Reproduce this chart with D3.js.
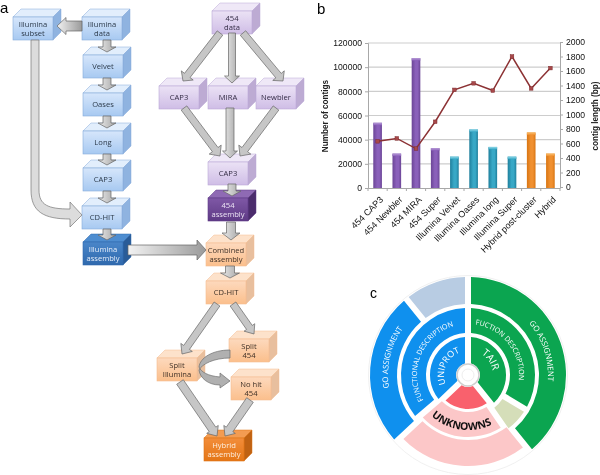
<!DOCTYPE html>
<html>
<head>
<meta charset="utf-8">
<script src="https://cdn.jsdelivr.net/npm/d3@7"></script>
<style>
  body { margin: 0; background: #fff; }
  svg { filter: blur(0.3px); }
  text { font-family: "Liberation Sans", Arial, sans-serif; }
  .boxtext { font-family: "Open Sans", sans-serif; font-size: 7.6px; text-anchor: middle; }
  .ringtext { font-family: "Open Sans", sans-serif; fill: #fff; text-anchor: middle; }
</style>
</head>
<body>
<div id="plot"></div>
<script>
// panel b values
const categories = ["454 CAP3", "454 Newbler", "454 MIRA", "454 Super", "Illumina Velvet", "Illumina Oases",
  "Illumina long", "Illumina Super", "Hybrid post-cluster", "Hybrid"];
const contigCounts = [54000, 28500, 107500, 33000, 26000, 48500, 34000, 26000, 46000, 28500];
const contigLengths = [630, 670, 530, 900, 1340, 1430, 1330, 1800, 1360, 1640];
const barGroups = ["p", "p", "p", "p", "t", "t", "t", "t", "o", "o"];
const countTicks = [0, 20000, 40000, 60000, 80000, 100000, 120000];
const lengthTicks = [0, 200, 400, 600, 800, 1000, 1200, 1400, 1600, 1800, 2000];

// panel c slices, in degrees clockwise from the top
const outerRing = [143, 86, 94, 37];
const middleRing = [122, 22, 84, 132];
const innerRing = [142, 84, 134];

// panel a boxes: label lines, colour family, front face x/y
const boxes = [
  [["Illumina", "subset"], "blue", 13, 17],
  [["Illumina", "data"], "blue", 82, 17],
  [["Velvet"], "blue", 83, 55],
  [["Oases"], "blue", 83, 93],
  [["Long"], "blue", 83, 131],
  [["CAP3"], "blue", 83, 168],
  [["CD-HIT"], "blue", 82, 206],
  [["Illumina", "assembly"], "dblue", 83, 242],
  [["454", "data"], "purple", 212, 11],
  [["CAP3"], "purple", 159, 86],
  [["MIRA"], "purple", 208, 86],
  [["Newbler"], "purple", 256, 86],
  [["CAP3"], "purple", 208, 162],
  [["454", "assembly"], "dpurple", 208, 198],
  [["Combined", "assembly"], "peach", 206, 243],
  [["CD-HIT"], "peach", 206, 281],
  [["Split", "454"], "peach", 229, 339],
  [["No hit", "454"], "peach", 231, 377],
  [["Split", "Illumina"], "peach", 157, 358],
  [["Hybrid", "assembly"], "orange", 204, 438]
];

// straight block arrows: from x/y, to x/y, shaft width, head width, head length
const arrows = [
  [82, 26, 57, 26, 10, 17, 9],
  [107, 40, 107, 52, 8, 18, 5],
  [107, 78, 107, 90, 8, 18, 5],
  [107, 116, 107, 128, 8, 18, 5],
  [107, 154, 107, 165, 8, 18, 5],
  [107, 191, 107, 203, 8, 18, 5],
  [107, 229, 107, 240, 8, 18, 5],
  [220, 33, 183, 81, 7, 15, 7],
  [232, 33, 232, 83, 7, 15, 7],
  [243, 33, 283, 81, 7, 15, 7],
  [184, 108, 220, 156, 7, 15, 8],
  [230, 108, 230, 158, 8, 15, 7],
  [276, 108, 240, 156, 7, 15, 8],
  [232, 184, 232, 196, 8, 18, 5],
  [231, 222, 231, 240, 9, 18, 7],
  [230, 266, 230, 278, 9, 19, 5],
  [128, 250, 206, 250, 10, 20, 9],
  [217, 304, 182, 354, 7, 14, 8],
  [233, 304, 254, 334, 7, 13, 8],
  [180, 382, 217, 436, 8, 14, 8],
  [250, 400, 225, 436, 8, 14, 8]
];

const boxW = 40, boxH = 23, depth = 8;

const palette = {
  blue:    { top: "#e2eefc", a: "#d6e6fb", b: "#a7c9f1", side: "#8fb3e0", line: "#86abdb", text: "#2c3a4a" },
  dblue:   { top: "#4e8dd0", a: "#4a86c9", b: "#2f69ad", side: "#2a5c98", line: "#2f69ad", text: "#e6eefa" },
  purple:  { top: "#efe8f7", a: "#ebe2f5", b: "#cfbde6", side: "#bdabd3", line: "#bba8d6", text: "#332c44" },
  dpurple: { top: "#8f6ab4", a: "#7f58a6", b: "#5e3a85", side: "#4b2c6c", line: "#5e3a85", text: "#ece4f4" },
  peach:   { top: "#fde2cb", a: "#fdd9bd", b: "#fbbf8c", side: "#e8bf9e", line: "#f5bd90", text: "#3e3026" },
  orange:  { top: "#f39c52", a: "#f28d3a", b: "#e47616", side: "#bf6213", line: "#dd7414", text: "#fdeede" }
};

const svg = d3.select("#plot").append("svg").attr("width", 600).attr("height", 475);
const defs = svg.append("defs");

function addGradient(id, stops, x2, y2) {
  let g = defs.append("linearGradient").attr("id", id)
    .attr("x1", 0).attr("y1", 0).attr("x2", x2).attr("y2", y2);
  stops.forEach(s => g.append("stop").attr("offset", s[0]).attr("stop-color", s[1]));
}

// panel letters
svg.append("text").attr("x", 0).attr("y", 13).attr("font-size", 15).text("a");
svg.append("text").attr("x", 317).attr("y", 14).attr("font-size", 15).text("b");
svg.append("text").attr("x", 370).attr("y", 298).attr("font-size", 14).text("c");

// ---------- panel a ----------
const flow = svg.append("g");
Object.keys(palette).forEach(k => addGradient("face-" + k, [[0, palette[k].a], [1, palette[k].b]], 0, 1));
addGradient("arrow-v", [[0, "#ececec"], [1, "#a5a5a5"]], 1, 0);
addGradient("arrow-h", [[0, "#f2f2f2"], [1, "#9a9a9a"]], 1, 0);

const poly = d3.line();

boxes.forEach(function (b) {
  let c = palette[b[1]], x0 = b[2], y0 = b[3];
  let g = flow.append("g");
  g.append("path").attr("fill", c.top).attr("stroke", c.line).attr("stroke-width", 0.5)
    .attr("d", poly([[x0, y0], [x0 + depth, y0 - depth], [x0 + boxW + depth, y0 - depth], [x0 + boxW, y0]]) + "Z");
  g.append("path").attr("fill", c.side).attr("stroke", c.line).attr("stroke-width", 0.5)
    .attr("d", poly([[x0 + boxW, y0], [x0 + boxW + depth, y0 - depth], [x0 + boxW + depth, y0 + boxH - depth], [x0 + boxW, y0 + boxH]]) + "Z");
  g.append("rect").attr("x", x0).attr("y", y0).attr("width", boxW).attr("height", boxH)
    .attr("fill", "url(#face-" + b[1] + ")").attr("stroke", c.line).attr("stroke-width", 0.6);
  let lines = b[0];
  lines.forEach(function (t, i) {
    g.append("text").attr("class", "boxtext").attr("fill", c.text)
      .attr("x", x0 + boxW / 2)
      .attr("y", y0 + boxH / 2 + 2.8 + (i - (lines.length - 1) / 2) * 9.2)
      .text(t);
  });
});

function blockArrow(a) {
  let [x1, y1, x2, y2, sw, hw, hl] = a;
  let len = Math.hypot(x2 - x1, y2 - y1);
  let ux = (x2 - x1) / len, uy = (y2 - y1) / len;
  let nx = -uy, ny = ux;
  let bx = x2 - ux * hl, by = y2 - uy * hl;
  let pts = [
    [x1 + nx * sw / 2, y1 + ny * sw / 2],
    [bx + nx * sw / 2, by + ny * sw / 2],
    [bx + nx * hw / 2, by + ny * hw / 2],
    [x2, y2],
    [bx - nx * hw / 2, by - ny * hw / 2],
    [bx - nx * sw / 2, by - ny * sw / 2],
    [x1 - nx * sw / 2, y1 - ny * sw / 2]
  ];
  flow.append("path").attr("d", poly(pts) + "Z")
    .attr("fill", x1 == x2 ? "url(#arrow-v)" : y1 == y2 ? "url(#arrow-h)" : "#c6c6c6")
    .attr("stroke", "#666").attr("stroke-width", 0.7);
}
arrows.forEach(blockArrow);

// long bent arrow, subset to CD-HIT
flow.append("path").attr("fill", "#dcdcdc").attr("stroke", "#777").attr("stroke-width", 0.7)
  .attr("d", "M31,40 L39,40 L39,190 C39,205 48,209 70,209 L70,202 L82,215 L70,227 L70,219 C44,219 31,212 31,190 Z");

// curved arrow, split 454 round to no hit 454
flow.append("path").attr("fill", "#b0b0b0").attr("stroke", "#6f6f6f").attr("stroke-width", 0.7)
  .attr("d", "M230,350 C212,350 200,358 199,367 C201,372 208,376 220,377 L220,373 L230,381 L220,388 L220,385 " +
             "C208,385 200,378 199,370 C202,364 214,358 230,358 Z");

// ---------- panel b ----------
const x = d3.scaleBand().domain(categories).range([368, 560]).paddingInner(0.55).paddingOuter(0.275);
const yCount = d3.scaleLinear().domain([0, 120000]).range([188, 43]);
const yLength = d3.scaleLinear().domain([0, 2000]).range([187, 42]);

const chart = svg.append("g");

chart.append("g").selectAll("line").data(countTicks.slice(1)).enter().append("line")
  .attr("x1", 368).attr("x2", 560)
  .attr("y1", d => yCount(d)).attr("y2", d => yCount(d))
  .attr("stroke", "#cdcdcd").attr("stroke-width", 1.2);

const barColors = { p: ["#b89cd8", "#8a60ba", "#6b4596"], t: ["#8fd8e8", "#38a8c6", "#1f7f9c"], o: ["#f9c070", "#f09030", "#d87512"] };
Object.keys(barColors).forEach(function (k) {
  addGradient("bar-" + k, [[0, barColors[k][2]], [0.45, barColors[k][1]], [0.7, barColors[k][1]], [1, barColors[k][2]]], 1, 0);
  addGradient("cap-" + k, [[0, barColors[k][0]], [1, barColors[k][1]]], 0, 1);
});

chart.append("g").selectAll("rect").data(categories).enter().append("rect")
  .attr("x", d => x(d))
  .attr("y", (d, i) => yCount(contigCounts[i]))
  .attr("width", x.bandwidth())
  .attr("height", (d, i) => yCount(0) - yCount(contigCounts[i]))
  .attr("fill", (d, i) => "url(#bar-" + barGroups[i] + ")");
chart.append("g").selectAll("rect").data(categories).enter().append("rect")
  .attr("x", d => x(d))
  .attr("y", (d, i) => yCount(contigCounts[i]))
  .attr("width", x.bandwidth())
  .attr("height", 2.5)
  .attr("fill", (d, i) => "url(#cap-" + barGroups[i] + ")");

const leftAxis = chart.append("g").attr("transform", "translate(368,0)")
  .call(d3.axisLeft(yCount).tickValues(countTicks).tickFormat(d3.format("d")).tickSize(3));
const rightAxis = chart.append("g").attr("transform", "translate(560,0)")
  .call(d3.axisRight(yLength).tickValues(lengthTicks).tickFormat(d3.format("d")).tickSize(3));
const bottomAxis = chart.append("g").attr("transform", "translate(0,188)")
  .call(d3.axisBottom(x).tickSize(0));

[leftAxis, rightAxis, bottomAxis].forEach(function (a) {
  a.selectAll("path,line").attr("stroke", "#a8a8a8");
  a.selectAll("text").attr("font-size", 8.6).attr("fill", "#111")
    .style("font-family", '"Liberation Sans", Arial, sans-serif');
});
bottomAxis.selectAll("text")
  .attr("text-anchor", "end")
  .attr("font-size", 9)
  .attr("transform", "translate(4,10) rotate(-45)")
  .attr("dy", "0.35em").attr("y", 0).attr("x", 0);

// separators between the categories
chart.append("g").selectAll("line").data(d3.range(categories.length + 1)).enter().append("line")
  .attr("x1", i => 368 + i * x.step()).attr("x2", i => 368 + i * x.step())
  .attr("y1", 188).attr("y2", 191).attr("stroke", "#a8a8a8");

const lengthLine = d3.line().x((d, i) => x(categories[i]) + x.bandwidth() / 2).y(d => yLength(d));
chart.append("path").attr("d", lengthLine(contigLengths))
  .attr("fill", "none").attr("stroke", "#8c3234").attr("stroke-width", 1.5);
chart.append("g").selectAll("rect").data(contigLengths).enter().append("rect")
  .attr("x", (d, i) => x(categories[i]) + x.bandwidth() / 2 - 1.8)
  .attr("y", d => yLength(d) - 1.8)
  .attr("width", 3.6).attr("height", 3.6)
  .attr("fill", "#a8484a").attr("stroke", "#7c2a2c").attr("stroke-width", 0.5);

chart.append("text").attr("transform", "translate(328,116) rotate(-90)")
  .attr("text-anchor", "middle").attr("font-size", 8.2).attr("font-weight", "bold").attr("fill", "#222")
  .text("Number of contigs");
chart.append("text").attr("transform", "translate(598,116) rotate(-90)")
  .attr("text-anchor", "middle").attr("font-size", 8.2).attr("font-weight", "bold").attr("fill", "#222")
  .text("contig length (bp)");

// ---------- panel c ----------
const cx = 468, cy = 375;
const wheel = svg.append("g").attr("transform", "translate(" + cx + "," + cy + ")");
wheel.append("circle").attr("r", 99.5).attr("fill", "#fff").attr("stroke", "#f0f0f0");

const deg = Math.PI / 180;
const pie = d3.pie().sort(null).value(d => d).padAngle(0.06);
const green = "#0ba550", blue = "#0f90ee", pink = "#fcc7c8", red = "#f9616d", greyBlue = "#b8cce3", paleGreen = "#d5deb9";

const rings = [
  { values: outerRing, colors: [green, pink, blue, greyBlue], r0: [71, 65, 71, 71], r1: [98, 91, 98, 98] },
  { values: middleRing, colors: [green, paleGreen, pink, blue], r0: [42, 42, 37, 42], r1: [67, 67, 62, 67] },
  { values: innerRing, colors: [green, red, blue], r0: [12, 12, 12], r1: [38, 34, 38] }
];

rings.forEach(function (ring) {
  let arc = d3.arc().padRadius(100).innerRadius(d => ring.r0[d.index]).outerRadius(d => ring.r1[d.index]);
  wheel.append("g").selectAll("path").data(pie(ring.values)).enter().append("path")
    .attr("d", arc).attr("fill", d => ring.colors[d.index]);
});

wheel.append("circle").attr("r", 11).attr("fill", "#fff").attr("stroke", "#cfcfcf").attr("stroke-width", 1.5);
wheel.append("circle").attr("r", 6).attr("fill", "#fff").attr("stroke", "#eee");

function ringLabel(id, label, r, midAngle, size, opts) {
  opts = opts || {};
  let p = d3.path();
  let ccw = !!opts.ccw;
  let a0 = (midAngle + (ccw ? 80 : -80) - 90) * deg, a1 = (midAngle + (ccw ? -80 : 80) - 90) * deg;
  p.arc(0, 0, r, a0, a1, ccw);
  defs.append("path").attr("id", id).attr("d", p.toString());
  wheel.append("text").attr("class", "ringtext").attr("font-size", size)
    .attr("font-weight", opts.bold ? "bold" : "normal")
    .style("fill", opts.fill || "#fff")
    .append("textPath").attr("href", "#" + id).attr("startOffset", "50%").text(label);
}

ringLabel("t1", "GO ASSIGNMENT", 80, 72, 7.8);
ringLabel("t2", "GO ASSIGNMENT", 80, 283, 7.8);
ringLabel("t3", "FUNCTIONAL DESCRIPTION", 51, 292, 7.2);
ringLabel("t4", "FUCTION DESCRIPTION", 51, 52, 7.2);
ringLabel("t5", "UNIPROT", 24, 294, 9);
ringLabel("t6", "TAIR", 25, 56, 10);
ringLabel("t7", "UNKNOWNS", 55, 188, 10.5, { ccw: true, bold: true, fill: "#111" });
</script>
</body>
</html>
